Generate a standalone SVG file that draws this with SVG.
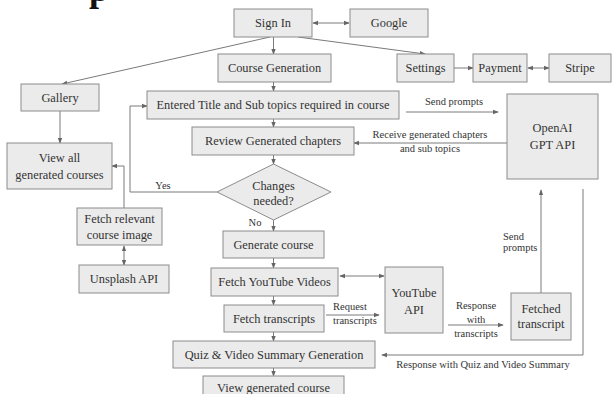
<svg xmlns="http://www.w3.org/2000/svg" width="614" height="394" viewBox="0 0 614 394">
<style>
.box{fill:#ebebeb;stroke:#8c8c8c;stroke-width:1}
.t{font-family:"Liberation Serif","Times New Roman",serif;font-size:12.4px;fill:#333;text-anchor:middle}
.l{font-family:"Liberation Serif","Times New Roman",serif;font-size:10.5px;fill:#333;text-anchor:middle}
.s{text-anchor:start}
.c{fill:none;stroke:#7a7a7a;stroke-width:1}
.a{marker-end:url(#ah)}
.b{marker-start:url(#as);marker-end:url(#ah)}
</style>
<defs>
<marker id="ah" viewBox="0 0 8 8" refX="7" refY="4" markerWidth="6" markerHeight="6" orient="auto" markerUnits="userSpaceOnUse"><path d="M0,1 L8,4 L0,7 Z" fill="#666"/></marker>
<marker id="as" viewBox="0 0 8 8" refX="1" refY="4" markerWidth="6" markerHeight="6" orient="auto" markerUnits="userSpaceOnUse"><path d="M8,1 L0,4 L8,7 Z" fill="#666"/></marker>
</defs>
<rect width="614" height="394" fill="#fff"/>
<text x="89" y="1" font-family="Liberation Serif, serif" font-weight="bold" font-size="36" fill="#111">p</text>

<g id="connectors">
<line class="c b" x1="313" y1="23" x2="349" y2="23"/>
<line class="c a" x1="270" y1="37" x2="62" y2="84"/>
<line class="c a" x1="298" y1="37" x2="425" y2="54"/>
<line class="c a" x1="273.5" y1="37" x2="273.5" y2="54"/>
<line class="c a" x1="273.5" y1="82" x2="273.5" y2="91"/>
<line class="c a" x1="273.5" y1="119" x2="273.5" y2="127"/>
<line class="c a" x1="273.5" y1="155" x2="273.5" y2="164"/>
<line class="c a" x1="273.5" y1="220" x2="273.5" y2="231"/>
<line class="c a" x1="273.5" y1="258" x2="273.5" y2="268"/>
<line class="c a" x1="273.5" y1="296" x2="273.5" y2="305"/>
<line class="c a" x1="273.5" y1="332" x2="273.5" y2="341"/>
<line class="c a" x1="273.5" y1="368" x2="273.5" y2="376"/>
<line class="c a" x1="454" y1="68" x2="473" y2="68"/>
<line class="c b" x1="528" y1="68" x2="549" y2="68"/>
<line class="c a" x1="60" y1="111" x2="60" y2="143"/>
<polyline class="c a" points="217,192 130,192 130,106 147,106"/>
<polyline class="c a" points="124,208 124,166 112,166"/>
<line class="c b" x1="124" y1="246" x2="124" y2="265"/>
<line class="c a" x1="406" y1="112" x2="498" y2="112"/>
<line class="c a" x1="507" y1="143" x2="354" y2="143"/>
<line class="c a" x1="541" y1="293" x2="541" y2="190"/>
<polyline class="c a" points="583,189 583,355 382,355"/>
<line class="c b" x1="340" y1="276" x2="384" y2="276"/>
<line class="c a" x1="326" y1="315" x2="379" y2="315"/>
<line class="c a" x1="448" y1="325" x2="503" y2="325"/>
<text class="l" x="454" y="105">Send prompts</text>
<text class="l" x="430" y="138">Receive generated chapters</text>
<text class="l" x="430" y="152">and sub topics</text>
<text class="l" x="163" y="189">Yes</text>
<text class="l" x="255" y="226">No</text>
<text class="l s" x="503" y="240">Send</text>
<text class="l s" x="503" y="251">prompts</text>
<text class="l s" x="333" y="310">Request</text>
<text class="l s" x="333" y="324">transcripts</text>
<text class="l" x="476" y="309">Response</text>
<text class="l" x="476" y="323">with</text>
<text class="l" x="476" y="337">transcripts</text>
<text class="l" x="483" y="368">Response with Quiz and Video Summary</text>
</g>

<g id="signin"><rect class="box" x="234" y="9" width="78" height="28"/><text class="t" x="273" y="27">Sign In</text></g>
<g id="google"><rect class="box" x="350" y="9" width="78" height="28"/><text class="t" x="389" y="27">Google</text></g>
<g id="coursegen"><rect class="box" x="218" y="54" width="113" height="28"/><text class="t" x="274.5" y="72">Course Generation</text></g>
<g id="settings"><rect class="box" x="397" y="54" width="57" height="28"/><text class="t" x="425.5" y="72">Settings</text></g>
<g id="payment"><rect class="box" x="473" y="54" width="54" height="28"/><text class="t" x="500" y="72">Payment</text></g>
<g id="stripe"><rect class="box" x="549" y="54" width="62" height="28"/><text class="t" x="580" y="72">Stripe</text></g>
<g id="gallery"><rect class="box" x="21" y="84" width="78" height="27"/><text class="t" x="60" y="102">Gallery</text></g>
<g id="entered"><rect class="box" x="147" y="91" width="252" height="28"/><text class="t" x="273" y="109">Entered Title and Sub topics required in course</text></g>
<g id="openai"><rect class="box" x="507" y="94" width="91" height="85"/><text class="t" x="552.5" y="132">OpenAI</text><text class="t" x="552.5" y="149">GPT API</text></g>
<g id="review"><rect class="box" x="192" y="127" width="162" height="28"/><text class="t" x="273" y="145">Review Generated chapters</text></g>
<g id="viewall"><rect class="box" x="7" y="143" width="105" height="46"/><text class="t" x="59.5" y="162">View all</text><text class="t" x="59.5" y="179">generated courses</text></g>
<g id="changes"><polygon class="box" points="217,192 273.5,164 331,192 273.5,220"/><text class="t" x="273.5" y="190">Changes</text><text class="t" x="273.5" y="205">needed?</text></g>
<g id="fetchimage"><rect class="box" x="77" y="208" width="85" height="37"/><text class="t" x="119.5" y="223">Fetch relevant</text><text class="t" x="119.5" y="239">course image</text></g>
<g id="generate"><rect class="box" x="223" y="231" width="101" height="27"/><text class="t" x="273.5" y="249">Generate course</text></g>
<g id="unsplash"><rect class="box" x="79" y="265" width="90" height="28"/><text class="t" x="124" y="283">Unsplash API</text></g>
<g id="fetchyt"><rect class="box" x="211" y="268" width="127" height="28"/><text class="t" x="274.5" y="286">Fetch YouTube Videos</text></g>
<g id="youtubeapi"><rect class="box" x="385" y="267" width="58" height="66"/><text class="t" x="414" y="297">YouTube</text><text class="t" x="414" y="314">API</text></g>
<g id="fetchedtranscript"><rect class="box" x="511" y="293" width="60" height="47"/><text class="t" x="541" y="313">Fetched</text><text class="t" x="541" y="328">transcript</text></g>
<g id="fetchtranscripts"><rect class="box" x="224" y="305" width="100" height="27"/><text class="t" x="274" y="323">Fetch transcripts</text></g>
<g id="quiz"><rect class="box" x="173" y="341" width="202" height="27"/><text class="t" x="274" y="359">Quiz &amp; Video Summary Generation</text></g>
<g id="viewgenerated"><rect class="box" x="203" y="376" width="141" height="28"/><text class="t" x="273.5" y="392">View generated course</text></g>
</svg>
